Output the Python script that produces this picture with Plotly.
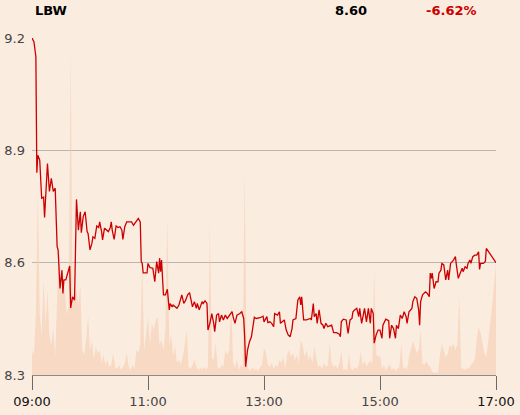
import pandas as pd
import plotly.graph_objects as go

# header
ticker = "LBW"
last_price = "8.60"
change_pct = "-6.62%"

# price ticks: minutes after 09:00 and price
price_min = [0, 2, 4, 5, 6, 8, 10, 12, 13, 16, 18, 20, 22, 24, 26, 27, 29, 31, 32, 33,
             35, 38, 39, 40, 42, 44, 46, 48, 50, 51, 53, 55, 57, 58, 60, 62, 63, 65, 67, 69,
             70, 72, 73, 75, 77, 79, 81, 82, 83, 85, 87, 89, 91, 93, 94, 96, 98, 103, 105, 107,
             110, 112, 113, 114, 115, 119, 120, 122, 125, 127, 129, 131, 132, 133, 134, 136, 138, 140, 142, 143,
             145, 146, 150, 152, 155, 157, 159, 161, 163, 166, 168, 170, 171, 173, 176, 177, 179, 181, 182, 184,
             186, 188, 189, 191, 193, 194, 196, 198, 200, 202, 204, 207, 208, 210, 212, 215, 217, 219, 220, 221,
             223, 225, 227, 230, 232, 236, 239, 240, 243, 244, 246, 248, 250, 251, 254, 256, 257, 259, 261, 263,
             265, 267, 269, 270, 273, 275, 277, 278, 279, 281, 284, 288, 289, 291, 292, 294, 295, 297, 299, 301,
             302, 304, 306, 310, 312, 315, 318, 319, 320, 322, 325, 327, 329, 331, 332, 334, 336, 338, 339, 341,
             343, 344, 346, 348, 350, 351, 353, 354, 356, 358, 360, 362, 363, 366, 369, 370, 372, 374, 376, 377,
             379, 381, 383, 385, 387, 388, 390, 393, 394, 396, 398, 400, 401, 402, 404, 406, 407, 409, 411, 412,
             413, 414, 416, 418, 420, 421, 423, 424, 426, 428, 430, 431, 433, 436, 438, 439, 441, 443, 445, 446,
             448, 450, 451, 453, 454, 456, 458, 460, 462, 463, 464, 467, 469, 470, 480]
price = [9.200, 9.190, 9.150, 8.840, 8.887, 8.874, 8.772, 8.775, 8.721, 8.865, 8.790, 8.825, 8.790, 8.799, 8.643, 8.634, 8.531, 8.580, 8.518, 8.554,
         8.554, 8.585, 8.591, 8.479, 8.509, 8.500, 8.769, 8.687, 8.736, 8.680, 8.723, 8.736, 8.683, 8.678, 8.634, 8.652, 8.669, 8.665, 8.698, 8.694,
         8.709, 8.683, 8.661, 8.692, 8.687, 8.683, 8.694, 8.709, 8.687, 8.662, 8.698, 8.694, 8.696, 8.687, 8.662, 8.696, 8.709, 8.709, 8.700, 8.707,
         8.718, 8.709, 8.603, 8.598, 8.573, 8.573, 8.598, 8.587, 8.585, 8.549, 8.603, 8.572, 8.612, 8.576, 8.607, 8.514, 8.514, 8.529, 8.474, 8.491,
         8.482, 8.487, 8.478, 8.487, 8.514, 8.491, 8.500, 8.514, 8.520, 8.482, 8.496, 8.478, 8.491, 8.474, 8.496, 8.491, 8.498, 8.491, 8.420, 8.438,
         8.464, 8.438, 8.416, 8.460, 8.464, 8.442, 8.460, 8.447, 8.460, 8.451, 8.457, 8.469, 8.456, 8.438, 8.460, 8.464, 8.469, 8.451, 8.402, 8.322,
         8.367, 8.389, 8.402, 8.454, 8.451, 8.453, 8.457, 8.442, 8.456, 8.440, 8.442, 8.438, 8.429, 8.464, 8.460, 8.469, 8.438, 8.442, 8.447, 8.420,
         8.407, 8.402, 8.424, 8.447, 8.451, 8.500, 8.509, 8.487, 8.509, 8.447, 8.447, 8.451, 8.447, 8.491, 8.456, 8.464, 8.438, 8.474, 8.438, 8.433,
         8.424, 8.438, 8.429, 8.433, 8.413, 8.413, 8.409, 8.402, 8.442, 8.449, 8.447, 8.411, 8.447, 8.451, 8.469, 8.474, 8.478, 8.456, 8.478, 8.438,
         8.464, 8.478, 8.442, 8.478, 8.438, 8.478, 8.464, 8.385, 8.407, 8.420, 8.420, 8.398, 8.433, 8.449, 8.445, 8.398, 8.433, 8.424, 8.398, 8.433,
         8.424, 8.460, 8.451, 8.469, 8.456, 8.438, 8.469, 8.478, 8.496, 8.509, 8.505, 8.474, 8.433, 8.496, 8.514, 8.518, 8.522, 8.518, 8.509, 8.572,
         8.558, 8.572, 8.531, 8.549, 8.549, 8.572, 8.580, 8.598, 8.594, 8.554, 8.580, 8.554, 8.598, 8.607, 8.616, 8.594, 8.558, 8.572, 8.585, 8.576,
         8.589, 8.585, 8.598, 8.607, 8.598, 8.616, 8.620, 8.620, 8.629, 8.582, 8.598, 8.598, 8.603, 8.638, 8.600]

# volume per 2-minute bucket, 09:00 .. 17:00 (arbitrary units)
volume = [25, 20, 60, 185, 60, 40, 95, 50, 85, 40, 30, 47, 18, 78, 135, 80, 90, 85, 60, 70,
          323, 80, 75, 85, 70, 90, 25, 20, 35, 60, 25, 35, 15, 28, 22, 25, 12, 20, 10, 15,
          8, 10, 22, 8, 6, 10, 5, 8, 12, 22, 8, 5, 10, 6, 25, 22, 30, 115, 25, 40,
          58, 30, 52, 45, 55, 58, 30, 35, 25, 45, 157, 30, 40, 20, 28, 12, 15, 10, 18, 30,
          45, 8, 6, 10, 15, 8, 5, 7, 6, 8, 5, 8, 150, 18, 15, 32, 8, 6, 10, 8,
          25, 20, 25, 72, 12, 8, 15, 5, 10, 8, 205, 12, 6, 4, 8, 5, 6, 4, 8, 10,
          27, 22, 10, 8, 12, 6, 10, 8, 15, 12, 18, 6, 20, 25, 18, 22, 15, 20, 12, 35,
          30, 18, 25, 15, 20, 12, 28, 18, 8, 10, 6, 12, 8, 10, 32, 12, 8, 10, 6, 12,
          24, 5, 6, 4, 21, 6, 5, 8, 6, 10, 23, 10, 14, 8, 12, 14, 12, 105, 21, 18,
          20, 6, 10, 4, 8, 11, 5, 7, 4, 6, 8, 31, 6, 8, 5, 18, 25, 34, 28, 22,
          25, 45, 12, 10, 14, 10, 8, 3, 2, 3, 2, 20, 31, 25, 18, 21, 30, 28, 32, 25,
          30, 78, 8, 6, 5, 7, 6, 10, 13, 15, 35, 48, 42, 33, 22, 18, 33, 51, 69, 88,
          112]
volume_min = list(range(0, 481, 2))

open_time = pd.Timestamp("2024-01-01 09:00")
price_t = open_time + pd.to_timedelta(price_min, unit="m")
volume_t = open_time + pd.to_timedelta(volume_min, unit="m")

tick_hours = ["09:00", "11:00", "13:00", "15:00", "17:00"]
tick_vals = [pd.Timestamp("2024-01-01 " + h) for h in tick_hours]
tick_text = ["<span style='color:#111'>09:00</span>", "11:00", "13:00", "15:00",
             "<span style='color:#111'>17:00</span>"]

BG = "#fbece0"

fig = go.Figure()

# volume underneath (base axis, hidden)
fig.add_trace(go.Scatter(
    x=volume_t, y=volume, yaxis="y",
    mode="lines", line=dict(width=0, color="#f6d4bb"),
    fill="tozeroy", fillcolor="rgba(245,205,176,0.6)",
    hoverinfo="skip", showlegend=False,
))

# price line on overlaying axis so it sits on top
fig.add_trace(go.Scatter(
    x=price_t, y=price, yaxis="y2",
    mode="lines", line=dict(color="#cc0000", width=1.3),
    showlegend=False,
))

fig.update_layout(
    width=520, height=415,
    margin=dict(l=32, r=24, t=38, b=40, autoexpand=False),
    paper_bgcolor=BG, plot_bgcolor=BG,
    font=dict(family="DejaVu Sans", size=13, color="#444"),
    xaxis=dict(
        range=[tick_vals[0], tick_vals[-1]],
        tickvals=tick_vals, ticktext=tick_text,
        showgrid=False, zeroline=False, automargin=False,
        showline=True, linecolor="#8a8a8a", linewidth=1,
        ticks="outside", ticklen=14, tickcolor="#6a6a6a", tickwidth=1,
        tickfont=dict(size=13, color="#444"),
    ),
    yaxis=dict(
        range=[0, 337], visible=False, fixedrange=True, automargin=False,
    ),
    yaxis2=dict(
        overlaying="y", side="left", automargin=False,
        range=[8.3, 9.2], tickvals=[8.3, 8.6, 8.9, 9.2],
        ticktext=["8.3", "8.6", "8.9", "9.2"],
        showgrid=True, gridcolor="#b9b6b2", gridwidth=1,
        zeroline=False, showline=False, ticks="",
        ticklabelstandoff=6,
        tickfont=dict(size=13, color="#444"),
    ),
)

head_y = 1 + 28 / 337
fig.add_annotation(xref="paper", yref="paper", x=0.003, y=head_y,
                   xanchor="left", yanchor="middle", showarrow=False,
                   text="<b>" + ticker + "</b>",
                   font=dict(family="DejaVu Sans", size=13, color="#000"))
fig.add_annotation(xref="paper", yref="paper", x=0.648, y=head_y,
                   xanchor="left", yanchor="middle", showarrow=False,
                   text="<b>" + last_price + "</b>",
                   font=dict(family="DejaVu Sans", size=13, color="#000"))
fig.add_annotation(xref="paper", yref="paper", x=0.845, y=head_y,
                   xanchor="left", yanchor="middle", showarrow=False,
                   text="<b>" + change_pct + "</b>",
                   font=dict(family="DejaVu Sans", size=13, color="#cc0000"))

# page body has a default 8px margin; drop it so the figure sits at the corner
fig.write_html("out.html", config={"displayModeBar": False},
               post_script="document.body.style.margin='0';")
